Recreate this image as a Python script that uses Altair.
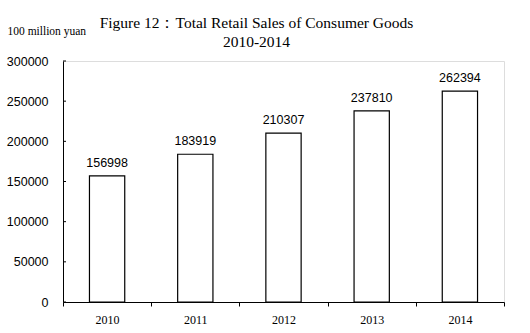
import altair as alt
import pandas as pd

years = ["2010", "2011", "2012", "2013", "2014"]
sales = [156998, 183919, 210307, 237810, 262394]
y_ticks = [0, 50000, 100000, 150000, 200000, 250000, 300000]

df = pd.DataFrame({"year": years, "sales": sales})
ticks_df = pd.DataFrame({"v": y_ticks})

x_enc = alt.X("year:N", sort=years,
              scale=alt.Scale(paddingInner=0, paddingOuter=0),
              axis=alt.Axis(title=None, labelAngle=0, tickBand="extent",
                            labelFont="Liberation Serif", labelFontSize=12,
                            labelColor="black", labelPadding=8,
                            domainColor="black", tickColor="black",
                            tickSize=4, domainWidth=1))
y_enc = alt.Y("sales:Q",
              scale=alt.Scale(domain=[0, 300000], nice=False),
              axis=alt.Axis(values=y_ticks, format="d", grid=False, ticks=False,
                            labelFont="Liberation Sans", labelFontSize=12.5,
                            labelColor="black", labelPadding=15,
                            domainColor="black", domainWidth=1,
                            title="100 million yuan", titleAngle=0,
                            titleFont="Liberation Serif", titleFontSize=11.5,
                            titleFontWeight="normal", titleColor="black",
                            titleAlign="left", titleBaseline="alphabetic",
                            titleX=-56, titleY=-27))

bars = alt.Chart(df).mark_bar(
    fill="white", stroke="black", strokeWidth=1.2,
    width=alt.RelativeBandSize(0.4)
).encode(x=x_enc, y=y_enc)

labels = alt.Chart(df).mark_text(
    dy=-6, baseline="bottom", font="Liberation Sans", fontSize=12.5, color="black"
).encode(x=alt.X("year:N", sort=years), y=alt.Y("sales:Q"), text=alt.Text("sales:Q", format="d"))

yticks = alt.Chart(ticks_df).mark_rule(color="black", strokeWidth=1).encode(
    y=alt.Y("v:Q"), x=alt.value(0), x2=alt.value(3)
)

chart = alt.layer(bars, labels, yticks).properties(
    width=441, height=241,
    title=alt.TitleParams(
        text=["Figure 12：Total Retail Sales of Consumer Goods", "2010-2014"],
        font="Liberation Serif", fontSize=15.5, fontWeight="normal", color="black",
        anchor="middle", dx=-27, offset=-25, lineHeight=19
    ),
    autosize=alt.AutoSizeParams(type="none"),
    padding={"left": 63, "top": 61, "right": 26, "bottom": 31}
).configure_view(stroke=None).configure(background="white")

chart.save("out.html", embed_options={"renderer": "svg", "actions": False})
